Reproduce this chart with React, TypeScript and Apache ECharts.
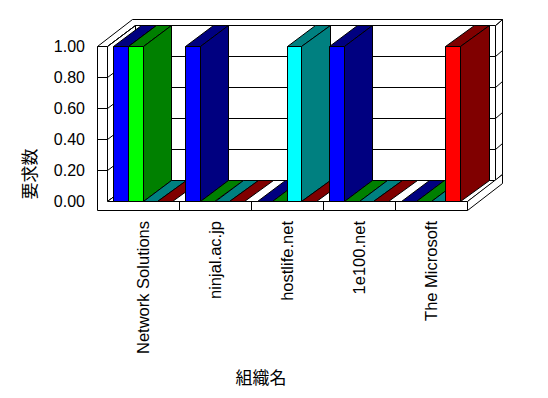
import React, { useEffect, useRef } from "react";
import * as echarts from "echarts";

const categories = ["Network Solutions", "ninjal.ac.jp", "hostlife.net", "1e100.net", "The Microsoft"];
const seriesBlue = [1, 1, 0, 1, 0];
const seriesLime = [1, 0, 0, 0, 0];
const seriesCyan = [0, 0, 1, 0, 0];
const seriesRed = [0, 0, 0, 0, 1];
const yTicks = [0, 0.2, 0.4, 0.6, 0.8, 1.0];
const yAxisTitle = "要求数";
const xAxisTitle = "組織名";

const frontColors = ["#0000FF", "#00FF00", "#00FFFF", "#FF0000"];
const sideColors = ["#000080", "#008000", "#008080", "#800000"];

const DX = 28.5;
const DY = -21;
const EXTRA = 1.25;
const WALL = 10;
const SLAB = 9;

const s = (v: number) => Math.floor(v) + 0.5;
const pt = (x: number, y: number) => [s(x), s(y)];
const LINE = { stroke: "#000", lineWidth: 1 };

export default function App() {
  const ref = useRef<HTMLDivElement>(null);
  useEffect(() => {
    if (!ref.current) return;
    const chart = echarts.init(ref.current, null, { renderer: "svg" });
    const barData = categories.map((_, i) => [i, seriesBlue[i], seriesLime[i], seriesCyan[i], seriesRed[i]]);
    const n = categories.length;

    const frameRender = (params: any, api: any) => {
      const bw = api.size([1, 0])[0];
      const base = api.coord([0, 0]);
      const L = base[0] - bw / 2;
      const R = api.coord([n - 1, 0])[0] + bw / 2;
      const B = base[1];
      const T = api.coord([0, yTicks[yTicks.length - 1]])[1];
      const ys = yTicks.map((v) => api.coord([0, v])[1]);
      const ch: any[] = [];
      const poly = (pts: number[][], fill = "#fff") => ({
        type: "polygon",
        shape: { points: pts.map((p) => pt(p[0], p[1])) },
        style: { fill, ...LINE },
      });
      const line = (x1: number, y1: number, x2: number, y2: number) => ({
        type: "line",
        shape: { x1: s(x1), y1: s(y1), x2: s(x2), y2: s(y2) },
        style: { ...LINE },
      });
      ch.push(poly([[L + DX, T + DY], [R + DX, T + DY], [R + DX, B + DY], [L + DX, B + DY]]));
      ys.forEach((y) => ch.push(line(L + DX, y + DY, R + DX, y + DY)));
      ch.push(poly([[R + DX, T + DY], [R + EXTRA * DX, T + EXTRA * DY], [R + EXTRA * DX, B + EXTRA * DY], [R + DX, B + DY]]));
      ys.forEach((y) => ch.push(line(R + DX, y + DY, R + EXTRA * DX, y + EXTRA * DY)));
      ch.push(
        poly([
          [L - WALL, T],
          [L, T],
          [L + DX, T + DY],
          [R + DX, T + DY],
          [R + EXTRA * DX, T + EXTRA * DY],
          [L - WALL + EXTRA * DX, T + EXTRA * DY],
        ])
      );
      ch.push(poly([[L, T], [L + DX, T + DY], [L + DX, B + DY], [L, B]]));
      ys.forEach((y) => ch.push(line(L, y, L + DX, y + DY)));
      ch.push(poly([[L, B], [R, B], [R + DX, B + DY], [L + DX, B + DY]]));
      ch.push(poly([[R, B], [R + EXTRA * DX, B + EXTRA * DY], [R + EXTRA * DX, B + SLAB + EXTRA * DY], [R, B + SLAB]]));
      ch.push(poly([[L - WALL, T], [L, T], [L, B], [R, B], [R, B + SLAB], [L - WALL, B + SLAB]]));
      ys.slice(1, -1).forEach((y) => ch.push(line(L - WALL, y, L, y)));
      for (let i = 1; i < n; i++) {
        const x = L + i * bw;
        ch.push(line(x, B, x, B + SLAB));
      }
      return { type: "group", children: ch };
    };

    const barRender = (params: any, api: any) => {
      const ci = api.value(0);
      const bw = api.size([1, 0])[0];
      const base = api.coord([ci, 0]);
      const left = base[0] - bw / 2;
      const gap = bw * 0.09;
      const barW = bw * 0.205;
      const bottom = base[1];
      const ch: any[] = [];
      for (let k = 0; k < 4; k++) {
        const v = api.value(k + 1);
        const top = api.coord([ci, v])[1];
        const x0 = left + gap + k * barW;
        const x1 = x0 + barW;
        const poly = (pts: number[][], fill: string) => ({
          type: "polygon",
          shape: { points: pts.map((p) => pt(p[0], p[1])) },
          style: { fill, ...LINE },
        });
        ch.push(poly([[x0, top], [x1, top], [x1 + DX, top + DY], [x0 + DX, top + DY]], sideColors[k]));
        if (v > 0) {
          ch.push(poly([[x1, top], [x1 + DX, top + DY], [x1 + DX, bottom + DY], [x1, bottom]], sideColors[k]));
          ch.push(poly([[x0, top], [x1, top], [x1, bottom], [x0, bottom]], frontColors[k]));
        }
      }
      return { type: "group", children: ch };
    };

    chart.setOption({
      animation: false,
      backgroundColor: "#fff",
      grid: { left: 107, right: 81, top: 46, bottom: 197 },
      xAxis: {
        type: "category",
        data: categories,
        axisLine: { show: false },
        axisTick: { show: false },
        splitLine: { show: false },
        axisLabel: {
          rotate: 90,
          interval: 0,
          margin: 20,
          color: "#000",
          fontSize: 16.5,
          fontFamily: "Liberation Sans, Arial, sans-serif",
        },
      },
      yAxis: {
        type: "value",
        min: 0,
        max: 1,
        interval: 0.2,
        axisLine: { show: false },
        axisTick: { show: false },
        splitLine: { show: false },
        axisLabel: {
          margin: 22,
          color: "#000",
          fontSize: 16,
          fontFamily: "Liberation Sans, Arial, sans-serif",
          formatter: (v: number) => v.toFixed(2),
        },
      },
      graphic: [
        {
          type: "text",
          x: 28,
          y: 174,
          rotation: Math.PI / 2,
          style: {
            text: yAxisTitle,
            fill: "#000",
            fontSize: 17,
            fontFamily: "Noto Sans CJK JP, sans-serif",
            align: "center",
            verticalAlign: "middle",
          },
        },
        {
          type: "text",
          x: 261,
          y: 376,
          style: {
            text: xAxisTitle,
            fill: "#000",
            fontSize: 17,
            fontFamily: "Noto Sans CJK JP, sans-serif",
            align: "center",
            verticalAlign: "middle",
          },
        },
      ],
      series: [
        {
          type: "custom",
          name: "frame",
          z: 1,
          silent: true,
          clip: false,
          renderItem: frameRender,
          data: [[0, 0]],
          encode: { x: 0, y: 1 },
        },
        {
          type: "custom",
          name: "bars",
          z: 2,
          clip: false,
          renderItem: barRender,
          data: barData,
          encode: { x: 0, y: [1, 2, 3, 4] },
        },
      ],
    });
    return () => chart.dispose();
  }, []);
  return <div ref={ref} style={{ position: "fixed", left: 0, top: 0, width: 548, height: 398 }} />;
}
